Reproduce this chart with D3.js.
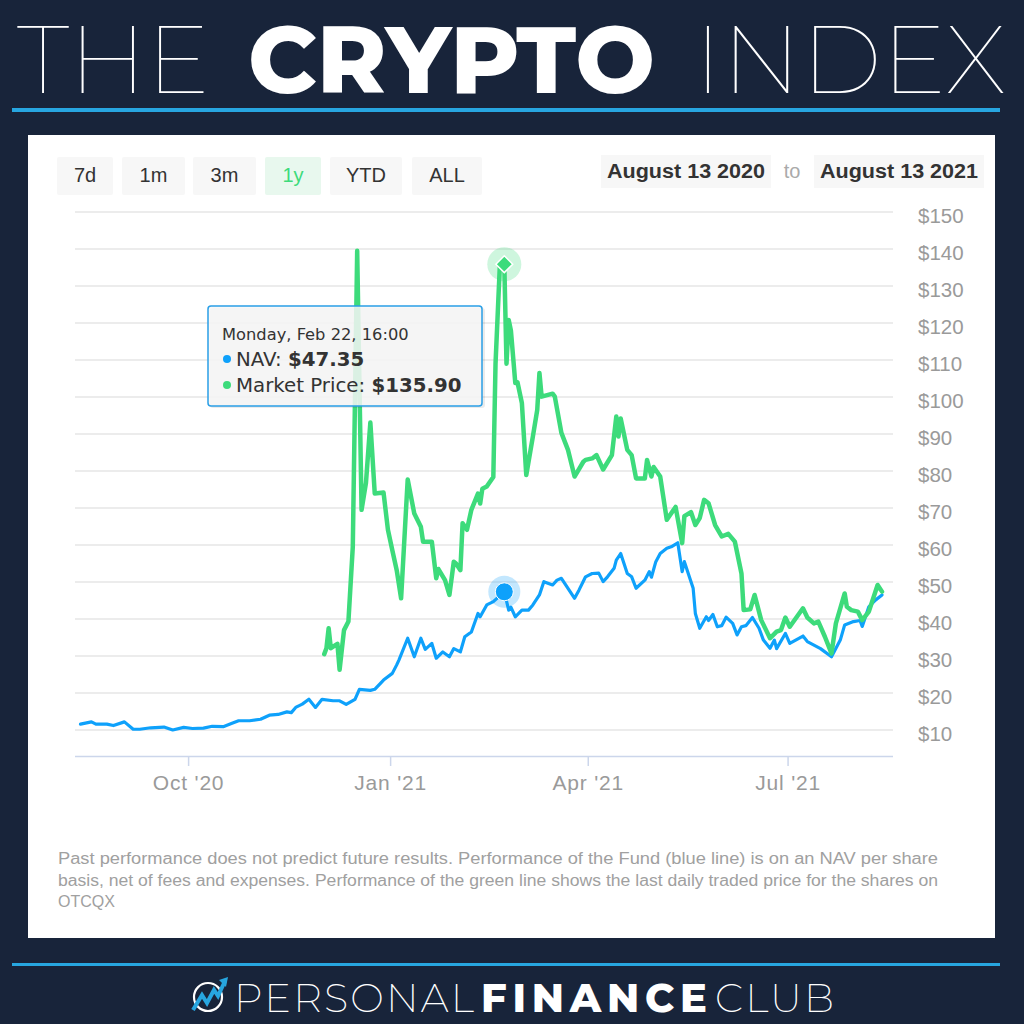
<!DOCTYPE html>
<html><head><meta charset="utf-8">
<script src="https://cdn.jsdelivr.net/npm/d3@7"></script>
<style>body{margin:0;background:#18243a;} svg{display:block}</style>
</head><body><svg id="c" width="1024" height="1024"></svg>
<script>
// ---- DATA ----
const navData = [
["2020-08-13",11.6],["2020-08-18",12.2],["2020-08-20",11.6],["2020-08-25",11.6],["2020-08-28",11.2],
["2020-09-02",12.2],["2020-09-06",10.2],["2020-09-09",10.2],["2020-09-14",10.6],["2020-09-20",10.8],
["2020-09-24",10.0],["2020-09-29",10.7],["2020-10-03",10.4],["2020-10-08",10.5],["2020-10-12",11.0],
["2020-10-17",10.9],["2020-10-21",11.8],["2020-10-24",12.5],["2020-10-29",12.5],["2020-11-03",12.9],
["2020-11-07",14.0],["2020-11-11",14.2],["2020-11-15",14.9],["2020-11-17",14.7],["2020-11-19",16.1],
["2020-11-22",17.0],["2020-11-25",18.3],["2020-11-28",16.1],["2020-12-01",18.3],["2020-12-06",17.9],
["2020-12-09",17.9],["2020-12-12",16.9],["2020-12-16",18.3],["2020-12-18",21.0],["2020-12-23",20.7],
["2020-12-25",21.0],["2020-12-29",23.5],["2021-01-02",25.3],["2021-01-04",27.6],["2021-01-05",28.9],
["2021-01-09",34.8],["2021-01-12",29.8],["2021-01-15",34.8],["2021-01-17",31.8],["2021-01-20",33.4],
["2021-01-22",29.4],["2021-01-25",31.1],["2021-01-28",29.8],["2021-01-30",32.0],["2021-02-02",31.1],
["2021-02-04",35.2],["2021-02-07",36.5],["2021-02-10",41.5],["2021-02-11",40.6],["2021-02-14",43.8],
["2021-02-17",44.7],["2021-02-22",47.35],["2021-02-24",42.4],["2021-02-25",43.2],["2021-02-27",40.6],
["2021-03-02",42.4],["2021-03-05",42.4],["2021-03-07",43.8],["2021-03-10",46.5],["2021-03-12",50.1],
["2021-03-16",49.2],["2021-03-18",50.5],["2021-03-20",51.0],["2021-03-26",45.6],["2021-03-28",47.8],
["2021-03-31",51.4],["2021-04-03",52.3],["2021-04-06",52.4],["2021-04-08",50.1],["2021-04-10",51.4],
["2021-04-13",53.7],["2021-04-14",55.9],["2021-04-16",57.7],["2021-04-19",52.3],["2021-04-21",51.4],
["2021-04-23",48.3],["2021-04-27",50.5],["2021-04-29",52.8],["2021-04-30",51.3],["2021-05-02",55.5],
["2021-05-04",57.7],["2021-05-07",59.1],["2021-05-09",59.5],["2021-05-12",60.6],["2021-05-14",52.8],
["2021-05-15",55.5],["2021-05-19",48.3],["2021-05-20",41.5],["2021-05-22",37.5],["2021-05-25",40.6],
["2021-05-26",39.6],["2021-05-28",41.2],["2021-05-30",37.9],["2021-06-01",38.2],["2021-06-03",40.5],
["2021-06-06",38.8],["2021-06-08",35.7],["2021-06-10",37.9],["2021-06-12",38.2],["2021-06-15",40.4],
["2021-06-18",37.5],["2021-06-20",34.3],["2021-06-23",32.1],["2021-06-25",34.3],["2021-06-26",32.0],
["2021-06-30",36.1],["2021-07-02",33.4],["2021-07-08",35.4],["2021-07-10",33.9],["2021-07-16",32.0],
["2021-07-21",29.8],["2021-07-25",34.3],["2021-07-27",38.4],["2021-07-31",39.3],["2021-08-03",39.6],
["2021-08-04",38.0],["2021-08-07",43.3],["2021-08-10",45.1],["2021-08-13",46.5]
];
const marketData = [
["2020-12-02",30.5],["2020-12-03",32.1],["2020-12-04",37.5],["2020-12-05",32.1],["2020-12-08",33.3],
["2020-12-09",26.3],["2020-12-11",37.0],["2020-12-13",39.3],["2020-12-15",59.5],["2020-12-17",139.5],
["2020-12-19",69.5],["2020-12-21",76.8],["2020-12-23",93.1],["2020-12-25",73.9],["2020-12-29",74.2],
["2020-12-31",64.1],["2021-01-02",58.6],["2021-01-04",53.2],["2021-01-06",45.6],["2021-01-09",77.7],
["2021-01-12",68.5],["2021-01-15",64.9],["2021-01-16",60.9],["2021-01-20",60.9],["2021-01-22",51.0],
["2021-01-23",53.5],["2021-01-26",50.5],["2021-01-28",46.5],["2021-01-30",55.5],["2021-01-31",55.0],
["2021-02-02",53.2],["2021-02-03",65.9],["2021-02-05",64.1],["2021-02-07",69.5],["2021-02-10",73.9],
["2021-02-11",71.2],["2021-02-12",75.2],["2021-02-14",75.8],["2021-02-17",78.4],["2021-02-18",109.0],
["2021-02-20",136.0],["2021-02-22",135.9],["2021-02-23",109.0],["2021-02-24",120.8],["2021-02-25",118.0],
["2021-02-27",103.8],["2021-02-28",104.0],["2021-03-02",98.4],["2021-03-04",78.9],["2021-03-07",89.3],
["2021-03-09",96.5],["2021-03-10",106.5],["2021-03-11",100.1],["2021-03-16",100.9],["2021-03-17",100.1],
["2021-03-20",90.3],["2021-03-23",85.7],["2021-03-26",78.5],["2021-03-30",82.5],["2021-03-31",83.0],
["2021-04-03",83.4],["2021-04-05",84.3],["2021-04-08",80.4],["2021-04-12",84.3],["2021-04-14",94.7],
["2021-04-15",89.3],["2021-04-16",94.2],["2021-04-19",85.7],["2021-04-21",84.3],["2021-04-23",78.0],
["2021-04-27",78.0],["2021-04-28",83.0],["2021-04-30",78.5],["2021-05-01",81.1],["2021-05-04",78.5],
["2021-05-07",66.8],["2021-05-11",70.3],["2021-05-14",60.5],["2021-05-15",67.8],["2021-05-18",68.9],
["2021-05-20",65.4],["2021-05-22",67.3],["2021-05-24",72.2],["2021-05-26",71.3],["2021-05-29",65.4],
["2021-06-01",62.3],["2021-06-04",63.0],["2021-06-07",60.9],["2021-06-10",52.3],["2021-06-11",42.4],
["2021-06-14",42.6],["2021-06-16",46.5],["2021-06-19",39.7],["2021-06-23",34.8],["2021-06-26",36.6],
["2021-06-28",37.0],["2021-06-30",40.4],["2021-07-02",37.9],["2021-07-08",42.9],["2021-07-10",40.4],
["2021-07-13",38.8],["2021-07-15",39.3],["2021-07-18",35.2],["2021-07-21",30.7],["2021-07-23",38.8],
["2021-07-27",46.9],["2021-07-28",43.3],["2021-07-30",42.4],["2021-08-02",42.0],["2021-08-04",39.7],
["2021-08-07",42.0],["2021-08-11",49.2],["2021-08-13",47.4]
];
const yTickValues = [10,20,30,40,50,60,70,80,90,100,110,120,130,140,150];
const xTickDates = ["2020-10-01","2021-01-01","2021-04-01","2021-07-01"];
const xTickLabels = ["Oct '20","Jan '21","Apr '21","Jul '21"];
const rangeButtons = ["7d","1m","3m","1y","YTD","ALL"];
const activeButton = "1y";
const dateRange = ["August 13 2020","August 13 2021"];
const hoverDate = "2021-02-22";
const tooltipTitle = "Monday, Feb 22, 16:00";
const tooltipNav = 47.35, tooltipMarket = 135.90;
const disclaimer = [
 "Past performance does not predict future results. Performance of the Fund (blue line) is on an NAV per share",
 "basis, net of fees and expenses. Performance of the green line shows the last daily traded price for the shares on",
 "OTCQX"];

// ---- DRAW ----
const svg = d3.select("#c");
const BG = "#18243a", BLUE = "#0ea1fb", GREEN = "#3ddb7b", RULE = "#27a6e0";
svg.append("rect").attr("width",1024).attr("height",1024).attr("fill",BG);

// Title
const tf = "Montserrat, Inter, Lato, 'Noto Sans', sans-serif";
const title = svg.append("g").attr("fill","#fff").attr("font-family",tf).attr("font-size",95);
title.append("text").attr("x",17).attr("y",93).attr("font-weight",100).attr("textLength",193).attr("lengthAdjust","spacingAndGlyphs").text("THE");
title.append("text").attr("x",248).attr("y",93).attr("font-weight",800).attr("textLength",407).attr("lengthAdjust","spacingAndGlyphs").text("CRYPTO");
title.append("text").attr("x",694).attr("y",93).attr("font-weight",100).attr("textLength",312).attr("lengthAdjust","spacingAndGlyphs").text("INDEX");
svg.append("rect").attr("x",12).attr("y",108).attr("width",988).attr("height",4).attr("fill",RULE);

// card
svg.append("rect").attr("x",28).attr("y",135).attr("width",967).attr("height",803).attr("fill","#fff");

// buttons
const btnX = [[57,113],[122,185],[193,256],[265,321],[330,402],[412,482]];
const bf = "'Liberation Sans Narrow','Liberation Sans', Arial, sans-serif";
rangeButtons.forEach((b,i)=>{
  const [x0,x1] = btnX[i], act = b===activeButton;
  svg.append("rect").attr("x",x0).attr("y",157).attr("width",x1-x0).attr("height",38).attr("rx",2)
    .attr("fill", act ? "#e8f8ee" : "#f7f7f7");
  svg.append("text").attr("x",(x0+x1)/2).attr("y",182).attr("text-anchor","middle")
    .attr("font-family",bf).attr("font-size",20).attr("fill", act ? "#3ddb7b" : "#333").text(b);
});
const dBox = [[601,771],[814,984]];
dateRange.forEach((t,i)=>{
  const [x0,x1] = dBox[i];
  svg.append("rect").attr("x",x0).attr("y",155).attr("width",x1-x0).attr("height",33).attr("fill","#f7f7f7");
  svg.append("text").attr("x",x0+6).attr("y",178).attr("font-family",bf).attr("font-size",20).attr("font-weight",600)
    .attr("fill","#333").attr("textLength",x1-x0-12).attr("lengthAdjust","spacingAndGlyphs").text(t);
});
svg.append("text").attr("x",792).attr("y",178).attr("text-anchor","middle").attr("font-family",bf)
  .attr("font-size",20).attr("fill","#aaa").text("to");

// scales
const parse = d3.utcParse("%Y-%m-%d");
const x = d3.scaleUtc().domain([parse("2020-08-13"), parse("2021-08-13")]).range([80.5, 882]);
const y = d3.scaleLinear().domain([10,150]).range([730,212]);
const plotL = 75, plotR = 893, axisY = 756;

// grid
svg.append("g").selectAll("line").data(yTickValues).join("line")
  .attr("x1",plotL).attr("x2",plotR).attr("y1",d=>y(d)).attr("y2",d=>y(d))
  .attr("stroke","#e6e6e6").attr("stroke-width",1.5);

// y labels
const af = "'Liberation Sans', Arial, Helvetica, sans-serif";
const yAxis = d3.axisRight(y).tickValues(yTickValues).tickSize(0).tickPadding(0).tickFormat(d=>"$"+d);
const yg = svg.append("g").attr("transform",`translate(918,3)`).call(yAxis);
yg.select(".domain").remove();
yg.selectAll("text").attr("font-family",af).attr("font-size",20.5).attr("fill","#9a9a9a").attr("dy","0.36em");

// x axis
const xAxis = d3.axisBottom(x).tickValues(xTickDates.map(parse)).tickSize(10).tickPadding(9)
  .tickFormat((d,i)=>xTickLabels[i]);
const xg = svg.append("g").attr("transform",`translate(0,${axisY})`).call(xAxis);
xg.select(".domain").attr("d",`M${plotL},0.5H${plotR}`).attr("stroke","#ccd6eb").attr("stroke-width",1.5);
xg.selectAll(".tick line").attr("stroke","#ccd6eb").attr("stroke-width",1.5);
xg.selectAll("text").attr("font-family",af).attr("font-size",21).attr("letter-spacing",0.8).attr("fill","#9a9a9a");

// lines
const line = d3.line().x(d=>x(parse(d[0]))).y(d=>y(d[1]));
svg.append("path").datum(navData).attr("d",line).attr("fill","none").attr("stroke",BLUE)
  .attr("stroke-width",3.2).attr("stroke-linejoin","round").attr("stroke-linecap","round");
svg.append("path").datum(marketData).attr("d",line).attr("fill","none").attr("stroke",GREEN)
  .attr("stroke-width",4.5).attr("stroke-linejoin","round").attr("stroke-linecap","round");

// hover markers
const hx = x(parse(hoverDate));
svg.append("circle").attr("cx",hx).attr("cy",y(tooltipNav)).attr("r",16).attr("fill",BLUE).attr("opacity",0.25);
svg.append("circle").attr("cx",hx).attr("cy",y(tooltipNav)).attr("r",9).attr("fill",BLUE).attr("stroke","#fff").attr("stroke-width",1);
svg.append("circle").attr("cx",hx).attr("cy",y(tooltipMarket)).attr("r",17).attr("fill",GREEN).attr("opacity",0.25);
svg.append("path").attr("d",d3.symbol(d3.symbolDiamond2,180)()).attr("transform",`translate(${hx},${y(tooltipMarket)})`)
  .attr("fill",GREEN).attr("stroke","#fff").attr("stroke-width",1.5);

// tooltip
const tt = svg.append("g");
tt.append("rect").attr("x",210).attr("y",308).attr("width",275).attr("height",100).attr("rx",3)
  .attr("fill","#000").attr("opacity",0.08);
tt.append("rect").attr("x",208).attr("y",306).attr("width",274).attr("height",100).attr("rx",3)
  .attr("fill","rgba(247,247,247,0.85)").attr("stroke","#2a9fe6").attr("stroke-width",1.5);
const ttf = "'DejaVu Sans', Verdana, sans-serif";
tt.append("text").attr("x",222).attr("y",340).attr("font-family",ttf).attr("font-size",16.3).attr("fill","#333").text(tooltipTitle);
[[BLUE,"NAV: ","$"+tooltipNav.toFixed(2),366],[GREEN,"Market Price: ","$"+tooltipMarket.toFixed(2),392]].forEach(r=>{
  tt.append("circle").attr("cx",227).attr("cy",r[3]-7).attr("r",4).attr("fill",r[0]);
  const t = tt.append("text").attr("x",236).attr("y",r[3]).attr("font-family",ttf).attr("font-size",19.8).attr("fill","#333");
  t.append("tspan").text(r[1]);
  t.append("tspan").attr("font-weight","bold").text(r[2]);
});

// disclaimer
disclaimer.forEach((s,i)=>{
  const t = svg.append("text").attr("x",58).attr("y",864+i*21.5).attr("font-family",bf).attr("font-size",16).attr("fill","#a0a0a0").text(s);
  if (i<2) t.attr("textLength",880).attr("lengthAdjust","spacingAndGlyphs");
});

// footer
svg.append("rect").attr("x",12).attr("y",963).attr("width",988).attr("height",3).attr("fill",RULE);
const lg = svg.append("g");
lg.append("circle").attr("cx",208).attr("cy",997).attr("r",14).attr("fill","none").attr("stroke","#fff").attr("stroke-width",2.2);
lg.append("path").attr("d","M193,1010 L202,995 L207,1003 L214,990 L218,996 L225,981").attr("fill","none").attr("stroke",RULE).attr("stroke-width",4).attr("stroke-linejoin","miter");
lg.append("path").attr("d","M219,980 L228,977 L226,987 Z").attr("fill",RULE);
const ft = svg.append("g").attr("fill","#fff").attr("font-family",tf).attr("font-size",40);
ft.append("text").attr("x",234).attr("y",1012).attr("font-weight",200).attr("textLength",240).attr("lengthAdjust","spacing").text("PERSONAL");
ft.append("text").attr("x",481).attr("y",1012).attr("font-weight",800).attr("textLength",226).attr("lengthAdjust","spacing").text("FINANCE");
ft.append("text").attr("x",715).attr("y",1012).attr("font-weight",200).attr("textLength",119).attr("lengthAdjust","spacing").text("CLUB");
</script></body></html>
